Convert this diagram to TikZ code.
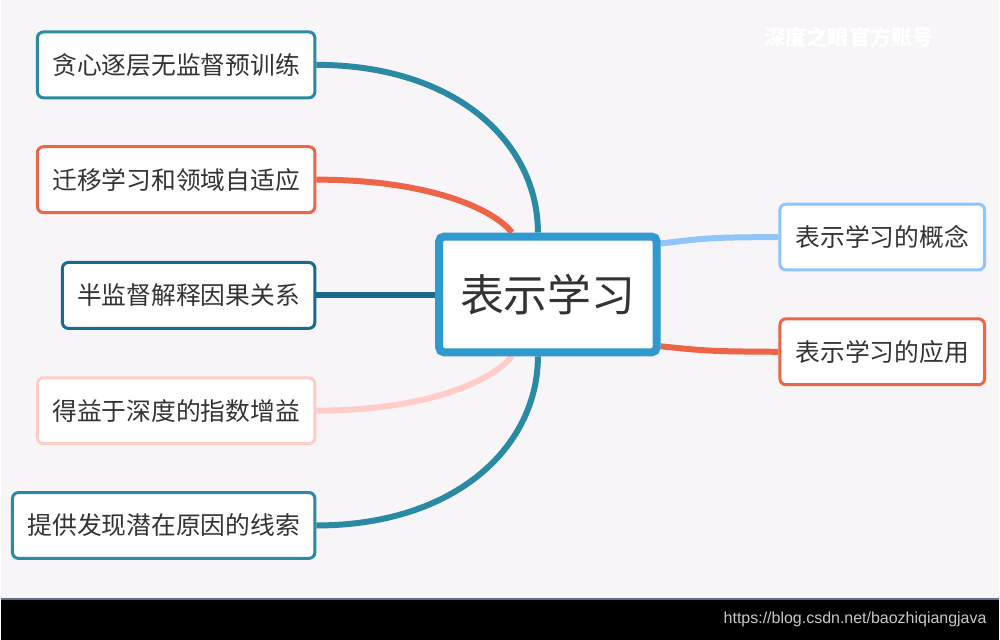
\documentclass[tikz,border=0pt]{standalone}
\usepackage{fontspec}
\setmainfont{Liberation Sans}
\newfontfamily\cjk{Noto Sans CJK SC}
\pgfdeclarelayer{bg}
\pgfdeclarelayer{conn}
\pgfsetlayers{bg,conn,main}
\definecolor{bgc}{HTML}{F7F5F8}
\definecolor{tealc}{HTML}{2A8AA3}
\definecolor{redc}{HTML}{EE6447}
\definecolor{darkc}{HTML}{1A6A8E}
\definecolor{pinkc}{HTML}{FFCCC7}
\definecolor{centc}{HTML}{2F99D0}
\definecolor{lbluec}{HTML}{8EC5FA}
\definecolor{txtc}{HTML}{333333}
\tikzset{
  leaf/.style={draw, line width=3pt, fill=white, rounded corners=6pt,
    minimum height=66pt, inner sep=0pt, text=txtc,
    font=\cjk\fontsize{24.8}{30}\selectfont},
  hub/.style={draw=centc, line width=8pt, fill=white, rounded corners=5pt,
    minimum width=218pt, minimum height=116pt, inner sep=0pt, text=txtc,
    font=\cjk\fontsize{44}{52}\selectfont},
  link/.style={line width=6pt},
}
\begin{document}
\begin{tikzpicture}[x=1pt,y=-1pt]
\begin{pgfonlayer}{bg}
\fill[bgc] (0,0) rectangle (1000,641);
\fill[black] (0,600) rectangle (1000,641);
\draw[color={rgb,255:red,90;green,110;blue,145}, line width=2pt] (0,600) -- (1000,600);
\end{pgfonlayer}
\useasboundingbox (0,0) rectangle (1000,641);

\node[hub] (c) at (548,295) {表示学习};

\node[leaf, draw=tealc, minimum width=278pt] (b1) at (175.5,65) {贪心逐层无监督预训练};
\node[leaf, draw=redc, minimum width=278pt] (b2) at (175.5,180) {迁移学习和领域自适应};
\node[leaf, draw=darkc, minimum width=253pt] (b3) at (188,296) {半监督解释因果关系};
\node[leaf, draw=pinkc, minimum width=278pt] (b4) at (175.5,411.5) {得益于深度的指数增益};
\node[leaf, draw=tealc, minimum width=303pt] (b5) at (163,526.5) {提供发现潜在原因的线索};

\node[leaf, draw=lbluec, minimum width=205pt] (r1) at (883,237.5) {表示学习的概念};
\node[leaf, draw=redc, minimum width=205pt] (r2) at (883,352.5) {表示学习的应用};

\node[text=white, font=\cjk\bfseries\fontsize{21.3}{26}\selectfont, anchor=west] (wm) at (761,37) {深度之眼官方账号};
\node[text={rgb,255:red,200;green,200;blue,200}, font=\fontsize{16}{19}\selectfont, anchor=east] (url) at (991,621) {https://blog.csdn.net/baozhiqiangjava};

\begin{pgfonlayer}{conn}
\draw[link, tealc] (b1.east) .. controls +(140,0) and +(0,-90) .. ([xshift=-10pt]c.north);
\draw[link, redc] (b2.east) .. controls +(110,0) and +(-20,-25) .. ([xshift=-36pt]c.north);
\draw[link, darkc] (b3.east) -- (c.west |- b3.east);
\draw[link, pinkc] (b4.east) .. controls +(110,0) and +(-20,25) .. ([xshift=-36pt]c.south);
\draw[link, tealc] (b5.east) .. controls +(140,0) and +(0,90) .. ([xshift=-10pt]c.south);
\draw[link, lbluec] ([yshift=51pt]c.east) .. controls +(50,-6) .. (r1.west);
\draw[link, redc] ([yshift=-52pt]c.east) .. controls +(50,5) .. (r2.west);
\end{pgfonlayer}
\end{tikzpicture}
\end{document}
